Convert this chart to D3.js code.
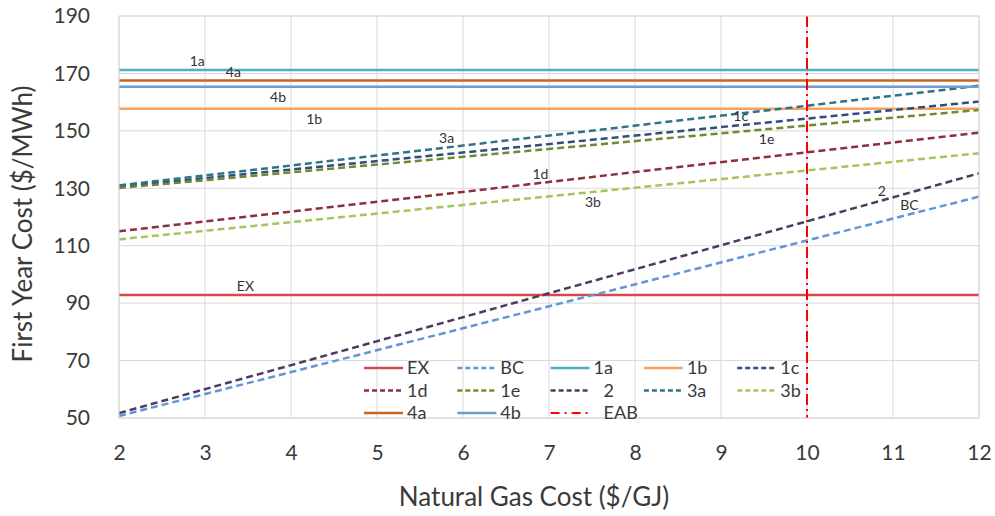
<!DOCTYPE html>
<meta charset="utf-8">
<style>
    body { margin: 0; background: #fff; }
    svg { font-family: Lato, "Open Sans", sans-serif; }
    .grid line { stroke: #d9d9d9; stroke-width: 1px; }
    .axis text { font-family: Lato, "Open Sans", sans-serif; font-size: 21px; fill: #3a3a3a; }
    .title { font-size: 26px; fill: #3a3a3a; }
    .lbl { font-size: 14px; fill: #333; }
    .legend text { font-size: 18px; fill: #3a3a3a; }
</style>
<svg width="995" height="516"></svg>
<script src="https://cdn.jsdelivr.net/npm/d3@7"></script>
<script>

    // gas cost range on the x axis
    var gasCost = [2, 12];
    var xTicks = [2, 3, 4, 5, 6, 7, 8, 9, 10, 11, 12];
    var yTicks = [50, 70, 90, 110, 130, 150, 170, 190];

    // first year cost ($/MWh) at gas cost 2 and 12
    var seriesNames = ["EX", "BC", "1a", "1b", "1c", "1d", "1e", "2", "3a", "3b", "4a", "4b"];
    var costAt2 = [92.8, 50.7, 171.2, 157.7, 130.6, 115.0, 130.1, 51.7, 131.0, 112.2, 167.5, 165.4];
    var costAt12 = [92.8, 127.1, 171.2, 157.7, 160.2, 149.4, 157.3, 135.2, 165.7, 142.2, 167.5, 165.4];

    // EAB marker
    var eabGasCost = 10;

    // in-chart labels: where along x they sit, above or below the line
    var labelNames = ["1a", "4a", "4b", "1b", "3a", "1d", "1c", "1e", "2", "BC", "3b", "EX"];
    var labelAt = [2.91, 3.33, 3.85, 4.27, 5.81, 6.9, 9.23, 9.53, 10.87, 11.19, 7.51, 3.47];
    var labelSide = ["up", "up", "down", "down", "up", "up", "up", "down", "up", "up", "down", "up"];

    var legendNames = ["EX", "BC", "1a", "1b", "1c", "1d", "1e", "2", "3a", "3b", "4a", "4b", "EAB"];

    var style = {
        "EX": { c: "#d5484c", d: null },
        "BC": { c: "#5f97d8", d: "7,4" },
        "1a": { c: "#4bb1c9", d: null },
        "1b": { c: "#f9a15e", d: null },
        "1c": { c: "#2f4e7c", d: "7,4" },
        "1d": { c: "#8e2f3d", d: "7,4" },
        "1e": { c: "#6f8b32", d: "7,4" },
        "2": { c: "#4b3d60", d: "7,4" },
        "3a": { c: "#2f7386", d: "7,4" },
        "3b": { c: "#a3c65c", d: "7,4" },
        "4a": { c: "#c6661f", d: null },
        "4b": { c: "#6f9bd0", d: null },
        "EAB": { c: "#ff0000", d: "11,4,2,4" }
    };

    var svg = d3.select("svg"),
        plotLeft = 119, plotRight = 979, plotTop = 16, plotBottom = 418;

    var x = d3.scaleLinear().domain(gasCost).range([plotLeft, plotRight]);
    var y = d3.scaleLinear().domain([50, 190]).range([plotBottom, plotTop]);

    svg.append("rect").attr("width", 995).attr("height", 516).attr("fill", "#fff");

    var grid = svg.append("g").attr("class", "grid");
    grid.selectAll(".h").data(yTicks).enter().append("line")
        .attr("x1", plotLeft).attr("x2", plotRight)
        .attr("y1", function (d) { return y(d); }).attr("y2", function (d) { return y(d); });
    grid.selectAll(".v").data(xTicks).enter().append("line")
        .attr("y1", plotTop).attr("y2", plotBottom)
        .attr("x1", function (d) { return x(d); }).attr("x2", function (d) { return x(d); });

    svg.append("g").attr("class", "axis")
        .attr("transform", "translate(0," + plotBottom + ")")
        .call(d3.axisBottom(x).tickValues(xTicks).tickSize(0).tickPadding(27).tickFormat(d3.format("d")));
    svg.append("g").attr("class", "axis")
        .attr("transform", "translate(" + plotLeft + ",0)")
        .call(d3.axisLeft(y).tickValues(yTicks).tickSize(0).tickPadding(29).tickFormat(d3.format("d")));
    svg.selectAll(".axis .domain").remove();

    svg.append("text").attr("class", "title")
        .attr("x", 534).attr("y", 506)
        .attr("text-anchor", "middle")
        .text("Natural Gas Cost ($/GJ)");
    svg.append("text").attr("class", "title")
        .attr("transform", "translate(32,224) rotate(-90)")
        .attr("text-anchor", "middle")
        .text("First Year Cost ($/MWh)");

    var series = seriesNames.map(function (name, i) {
        return { name: name, values: [[gasCost[0], costAt2[i]], [gasCost[1], costAt12[i]]] };
    });

    var line = d3.line().x(function (d) { return x(d[0]); }).y(function (d) { return y(d[1]); });

    svg.append("g").selectAll("path").data(series).enter().append("path")
        .attr("d", function (d) { return line(d.values); })
        .attr("fill", "none")
        .attr("stroke", function (d) { return style[d.name].c; })
        .attr("stroke-width", 2.5)
        .attr("stroke-dasharray", function (d) { return style[d.name].d; });

    svg.append("line")
        .attr("x1", x(eabGasCost)).attr("x2", x(eabGasCost))
        .attr("y1", plotTop).attr("y2", plotBottom)
        .attr("stroke", style.EAB.c).attr("stroke-width", 2)
        .attr("stroke-dasharray", style.EAB.d);

    // plot border
    svg.append("rect")
        .attr("x", plotLeft).attr("y", plotTop)
        .attr("width", plotRight - plotLeft).attr("height", plotBottom - plotTop)
        .attr("fill", "none").attr("stroke", "#d9d9d9");

    function valueAt(name, g) {
        var i = seriesNames.indexOf(name);
        var t = (g - gasCost[0]) / (gasCost[1] - gasCost[0]);
        return costAt2[i] + (costAt12[i] - costAt2[i]) * t;
    }

    svg.append("g").selectAll("text").data(labelNames).enter().append("text")
        .attr("class", "lbl")
        .attr("text-anchor", "middle")
        .attr("x", function (d, i) { return x(labelAt[i]); })
        .attr("y", function (d, i) { return y(valueAt(d, labelAt[i])) + (labelSide[i] === "up" ? -4 : 15); })
        .text(function (d) { return d; });

    // legend, five per row
    var legend = svg.append("g").attr("class", "legend");
    var item = legend.selectAll("g").data(legendNames).enter().append("g")
        .attr("transform", function (d, i) {
            return "translate(" + (364 + (i % 5) * 93.3) + "," + (368 + Math.floor(i / 5) * 22.5) + ")";
        });
    item.append("line")
        .attr("x1", 0).attr("x2", 39)
        .attr("stroke", function (d) { return style[d].c; })
        .attr("stroke-width", function (d) { return d === "EAB" ? 2 : 2.5; })
        .attr("stroke-dasharray", function (d) { return d === "EAB" ? "9,5,2,5" : (style[d].d ? "5,3" : null); });
    item.append("text")
        .attr("x", function (d) { return d === "2" || d === "EAB" ? 53 : 43; })
        .attr("dy", "0.35em")
        .text(function (d) { return d; });

</script>
